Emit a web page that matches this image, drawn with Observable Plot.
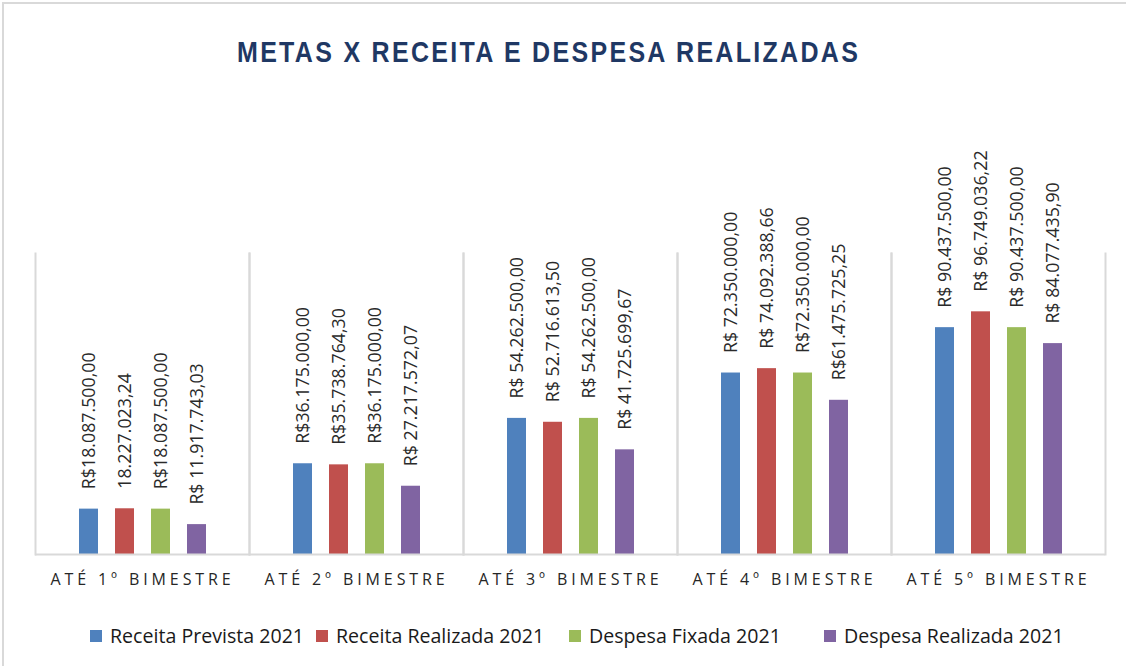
<!DOCTYPE html>
<html>
<head>
<meta charset="utf-8">
<script src="https://cdn.jsdelivr.net/npm/d3@7"></script>
<script src="https://cdn.jsdelivr.net/npm/@observablehq/plot@0.6"></script>
<style>
  html, body { margin: 0; padding: 0; background: #fff; overflow: hidden; }
  #wrap { position: relative; width: 1126px; height: 666px; overflow: hidden; }
  #border { position: absolute; left: 2px; top: 2px; width: 1200px; height: 800px; border-left: 2px solid #d9d9d9; border-top: 2px solid #d9d9d9; }
  #title { position: absolute; left: 237px; top: 42px; font-family: "Liberation Sans", Arial, sans-serif; font-weight: bold; font-size: 25px; letter-spacing: 2.3px; color: #1f3864; line-height: 1; white-space: nowrap; transform: scaleY(1.15); transform-origin: 0 100%; }
  #chart { position: absolute; left: 0; top: 100px; }
  #chart svg [aria-label="fx-axis tick label"] text { letter-spacing: 3.9px; }
  #legend { position: absolute; left: 90px; top: 622px; display: flex; font-family: "Open Sans", sans-serif; font-size: 19.6px; color: #1a1a1a; white-space: nowrap; line-height: 28px; }
  .item { display: flex; align-items: center; }
  .sw { width: 12px; height: 12px; margin-right: 8px; }
</style>
</head>
<body>
<div id="wrap">
  <div id="border"></div>
  <div id="title">METAS X RECEITA E DESPESA REALIZADAS</div>
  <div id="chart"></div>
  <div id="legend"></div>
</div>
<script>
const categories = ["ATÉ 1º BIMESTRE", "ATÉ 2º BIMESTRE", "ATÉ 3º BIMESTRE", "ATÉ 4º BIMESTRE", "ATÉ 5º BIMESTRE"];
const series = ["Receita Prevista 2021", "Receita Realizada 2021", "Despesa Fixada 2021", "Despesa Realizada 2021"];
const colors = ["#4f81bd", "#c0504d", "#9bbb59", "#8064a2"];

const receitaPrevista  = [18087500.00, 36175000.00, 54262500.00, 72350000.00, 90437500.00];
const receitaRealizada = [18227023.24, 35738764.30, 52716613.50, 74092388.66, 96749036.22];
const despesaFixada    = [18087500.00, 36175000.00, 54262500.00, 72350000.00, 90437500.00];
const despesaRealizada = [11917743.03, 27217572.07, 41725699.67, 61475725.25, 84077435.90];

const labelsReceitaPrevista  = ["R$18.087.500,00", "R$36.175.000,00", "R$ 54.262.500,00", "R$ 72.350.000,00", "R$ 90.437.500,00"];
const labelsReceitaRealizada = ["18.227.023,24", "R$35.738.764,30", "R$ 52.716.613,50", "R$ 74.092.388,66", "R$ 96.749.036,22"];
const labelsDespesaFixada    = ["R$18.087.500,00", "R$36.175.000,00", "R$ 54.262.500,00", "R$72.350.000,00", "R$ 90.437.500,00"];
const labelsDespesaRealizada = ["R$ 11.917.743,03", "R$ 27.217.572,07", "R$ 41.725.699,67", "R$61.475.725,25", "R$ 84.077.435,90"];

const values = [receitaPrevista, receitaRealizada, despesaFixada, despesaRealizada];
const labels = [labelsReceitaPrevista, labelsReceitaRealizada, labelsDespesaFixada, labelsDespesaRealizada];
const legendItemWidths = ["226px", "253px", "255px", "auto"];

const data = [];
categories.forEach((c, i) => {
  series.forEach((s, j) => {
    data.push({cat: c, series: s, value: values[j][i], label: labels[j][i]});
  });
});

const chart = Plot.plot({
  width: 1126,
  height: 494,
  marginLeft: 33,
  marginRight: 19,
  marginTop: 153,
  marginBottom: 40,
  style: {fontFamily: "Open Sans, sans-serif", background: "transparent"},
  fx: {domain: categories, padding: 0, label: null, axis: "bottom", tickSize: 0, tickPadding: 19, fontSize: 16},
  x: {domain: series, paddingInner: 0.474, paddingOuter: 1.163, axis: null},
  y: {domain: [0, 120000000], axis: null},
  color: {domain: series, range: colors},
  marks: [
    Plot.frame({anchor: "left", stroke: "#d9d9d9", strokeWidth: 2}),
    Plot.frame({anchor: "right", stroke: "#d9d9d9", strokeWidth: 2}),
    Plot.barY(data, {fx: "cat", x: "series", y: "value", fill: "series"}),
    Plot.ruleY([0], {stroke: "#d9d9d9", strokeWidth: 2}),
    Plot.text(data, {fx: "cat", x: "series", y: "value", text: "label", rotate: -90, textAnchor: "start", dy: -20, fontSize: 17.8, fill: "#2a2a2a"})
  ]
});
document.getElementById("chart").appendChild(chart);
chart.querySelectorAll('[aria-label="fx-axis tick label"] text, [aria-label="fx-axis tick label"]').forEach(el => {
  el.setAttribute("fill", "#262626");
  el.style.fontSize = "16px";
});

const legend = document.getElementById("legend");
series.forEach((s, j) => {
  const it = document.createElement("div");
  it.className = "item";
  it.style.width = legendItemWidths[j];
  const sw = document.createElement("div");
  sw.className = "sw";
  sw.style.background = colors[j];
  const tx = document.createElement("span");
  tx.textContent = s;
  it.appendChild(sw);
  it.appendChild(tx);
  legend.appendChild(it);
});
</script>
</body>
</html>
